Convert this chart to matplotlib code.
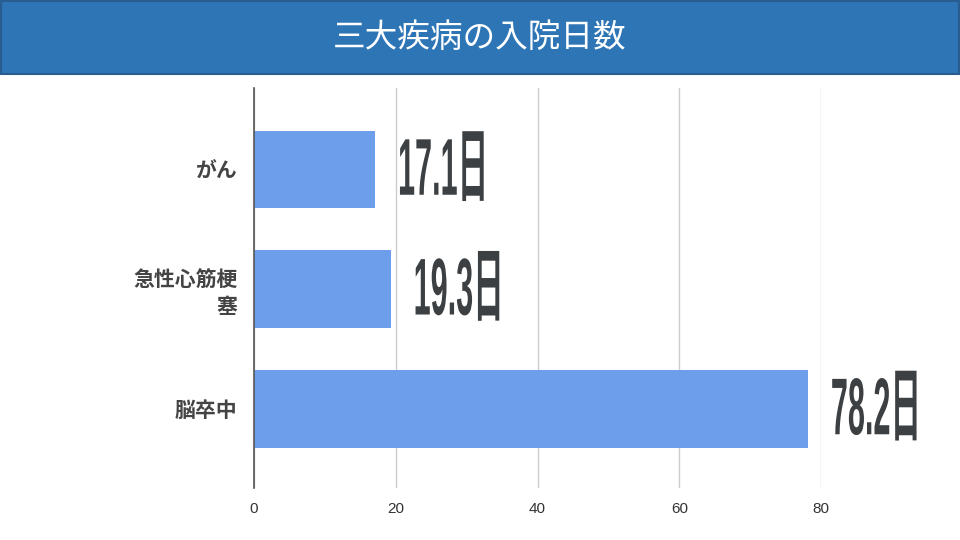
## 三大疾病の入院日数 - horizontal bar chart
import matplotlib
matplotlib.use("Agg")
import matplotlib.pyplot as plt
from matplotlib.patches import Rectangle
from matplotlib.patheffects import AbstractPathEffect
from matplotlib.transforms import Affine2D

plt.rcParams['font.family'] = ['Noto Sans CJK JP', 'DejaVu Sans']

## data
title = "三大疾病の入院日数"
categories = ["がん", "急性心筋梗\n塞", "脳卒中"]
days = [17.1, 19.3, 78.2]
value_labels = ["17.1日", "19.3日", "78.2日"]
xticks = [0, 20, 40, 60, 80]

bar_color = "#6d9eeb"
text_color = "#3c4043"


class Stretch(AbstractPathEffect):
	# stretch glyphs vertically (tall condensed look), anchored at left / vertical middle
	def __init__(self, sx, sy):
		super().__init__()
		self.sx = sx
		self.sy = sy

	def draw_path(self, renderer, gc, tpath, affine, rgbFace=None):
		ext = tpath.get_extents(affine)
		cx = ext.x0
		cy = (ext.y0 + ext.y1) / 2
		st = Affine2D().translate(-cx, -cy).scale(self.sx, self.sy).translate(cx, cy)
		renderer.draw_path(gc, tpath, affine + st, rgbFace)


fig = plt.figure(figsize=(9.6, 5.4), dpi=100)
fig.patch.set_facecolor("white")

# title bar
fig.patches.append(Rectangle((0.001, 1 - 74 / 540), 0.998, 74 / 540 - 0.002,
	transform=fig.transFigure, facecolor="#2e75b6", edgecolor="#2a5d8f", linewidth=1.5))
fig.text(0.5, 1 - 38 / 540, title, ha="center", va="center", color="white", fontsize=23.5)

ax = fig.add_axes([254 / 960, 1 - 488 / 540, 567 / 960, 400 / 540])
ypos = list(range(len(categories)))
ax.barh(ypos, days, height=0.65, color=bar_color, zorder=2)
ax.set_xlim(0, 80)
ax.set_ylim(2.66, -0.68)

ax.set_xticks(xticks)
ax.set_xticklabels([str(t) for t in xticks], family=['Liberation Sans', 'DejaVu Sans'],
	fontsize=11, color="#333333")
ax.set_yticks(ypos)
ax.set_yticklabels(categories, fontsize=15, fontweight="bold", color="#444444",
	linespacing=1.3)
ax.tick_params(length=0, pad=12)
ax.tick_params(axis="x", pad=10)

for side in ["top", "right", "bottom"]:
	ax.spines[side].set_visible(False)
ax.spines["left"].set_color("#555555")
ax.spines["left"].set_linewidth(1.2)
ax.spines["left"].set_zorder(3)
ax.grid(axis="x", color="#cccccc", linewidth=1, zorder=0)
ax.set_axisbelow(True)

for y, v, lab in zip(ypos, days, value_labels):
	t = ax.annotate(lab, (v, y), xytext=(16, 0), textcoords="offset points",
		ha="left", va="center", fontsize=29, fontweight="bold", color=text_color,
		family=['Liberation Sans', 'Noto Sans CJK JP'],
		annotation_clip=False)
	t.set_path_effects([Stretch(0.76, 2.0)])

fig.savefig("out.png", dpi=100)
